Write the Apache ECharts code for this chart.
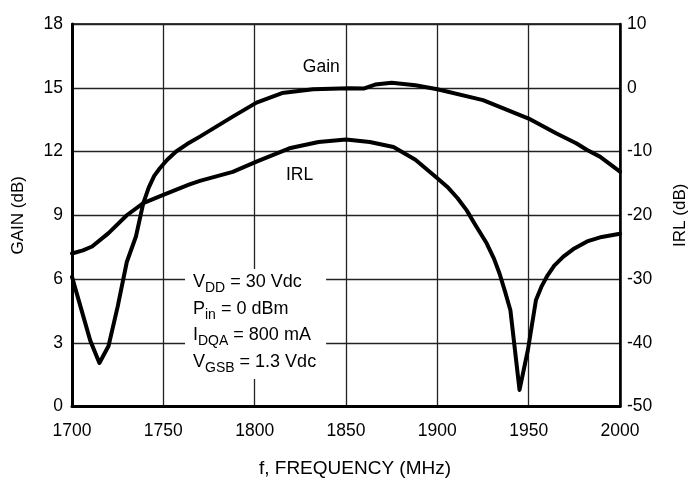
<!DOCTYPE html>
<html>
<head>
<meta charset="utf-8">
<script src="https://cdn.jsdelivr.net/npm/echarts@6/dist/echarts.min.js"></script>
<style>
html,body{margin:0;padding:0;background:#fff;}
#c{width:691px;height:478px;}
</style>
</head>
<body>
<div id="c"></div>
<script>
// Frequency ticks (MHz)
const freqTicks = [1700, 1750, 1800, 1850, 1900, 1950, 2000];
const gainTicks = [0, 3, 6, 9, 12, 15, 18];
const irlTicks = [-50, -40, -30, -20, -10, 0, 10];

// Gain curve (MHz, dB) — left axis
const gainFreq = [1700, 1710, 1715, 1720, 1725, 1730, 1735, 1739, 1742, 1745, 1748, 1752, 1757, 1763, 1770, 1788, 1801, 1815, 1832, 1852, 1860, 1866, 1875, 1888, 1900, 1925, 1950, 1965, 1976, 1982, 1989, 2000];
const gainVal  = [6.1, 3.1, 2.05, 2.85, 4.7, 6.8, 8.0, 9.56, 10.3, 10.85, 11.2, 11.6, 12.0, 12.35, 12.7, 13.64, 14.3, 14.75, 14.93, 14.98, 14.97, 15.15, 15.24, 15.12, 14.93, 14.42, 13.55, 12.86, 12.39, 12.07, 11.76, 11.05];

// IRL curve (MHz, dB) — right axis
const irlFreq = [1700, 1706, 1711, 1720, 1730, 1739, 1750, 1764, 1770, 1788, 1801, 1819, 1835, 1850, 1863, 1876, 1888, 1900, 1906, 1911, 1916, 1921, 1927, 1931, 1934, 1937, 1940, 1945, 1949.6, 1954, 1957, 1960, 1964, 1969, 1975, 1982, 1990, 2000];
const irlVal  = [-26.0, -25.5, -24.9, -22.8, -20.0, -18.1, -16.8, -15.2, -14.6, -13.2, -11.6, -9.5, -8.5, -8.1, -8.5, -9.3, -11.3, -14.2, -15.7, -17.3, -19.2, -21.6, -24.4, -26.8, -29.1, -31.9, -34.9, -47.4, -41.1, -33.3, -31.2, -29.6, -27.9, -26.5, -25.2, -24.1, -23.4, -22.9];

const FONT = "'Liberation Sans', Arial, sans-serif";
const FS = 17.5;

const chart = echarts.init(document.getElementById('c'), null, {renderer: 'canvas'});

const gainData = gainFreq.map((f, i) => [f, gainVal[i]]);
const irlData = irlFreq.map((f, i) => [f, irlVal[i]]);

const plain = v => String(v);

const option = {
  backgroundColor: '#fff',
  animation: false,
  textStyle: {fontFamily: FONT, color: '#000'},
  grid: {left: 72, right: 71, top: 24, bottom: 71.5, containLabel: false, outerBoundsMode: 'none',
    show: true, borderColor: '#000', borderWidth: 1.5, backgroundColor: 'transparent'},
  xAxis: {
    type: 'value', min: freqTicks[0], max: freqTicks[freqTicks.length - 1], interval: 50,
    name: 'f, FREQUENCY (MHz)', nameLocation: 'middle', nameGap: 53,
    nameTextStyle: {fontFamily: FONT, fontSize: 19, color: '#000', padding: [0, 0, 0, 18]},
    axisLine: {show: true, lineStyle: {color: '#000', width: 3}},
    axisTick: {show: false},
    axisLabel: {fontFamily: FONT, fontSize: FS, color: '#000', margin: 16, formatter: plain},
    splitLine: {show: true, lineStyle: {color: '#222', width: 1.3}}
  },
  yAxis: [
    {
      type: 'value', min: gainTicks[0], max: gainTicks[gainTicks.length - 1], interval: 3, position: 'left',
      name: 'GAIN (dB)', nameLocation: 'middle', nameGap: 45, nameRotate: 90,
      nameTextStyle: {fontFamily: FONT, fontSize: 17, color: '#000'},
      axisLine: {show: true, lineStyle: {color: '#000', width: 3}},
      axisTick: {show: false},
      axisLabel: {fontFamily: FONT, fontSize: FS, color: '#000', margin: 9, formatter: plain},
      splitLine: {show: true, lineStyle: {color: '#222', width: 1.3}}
    },
    {
      type: 'value', min: irlTicks[0], max: irlTicks[irlTicks.length - 1], interval: 10, position: 'right',
      name: 'IRL (dB)', nameLocation: 'middle', nameGap: 52, nameRotate: 90,
      nameTextStyle: {fontFamily: FONT, fontSize: 17, color: '#000'},
      axisLine: {show: true, lineStyle: {color: '#000', width: 2.5}},
      axisTick: {show: false},
      axisLabel: {fontFamily: FONT, fontSize: FS, color: '#000', margin: 7, formatter: plain},
      splitLine: {show: false}
    }
  ],
  series: [
    {
      name: 'Gain', type: 'line', yAxisIndex: 0, data: gainData, showSymbol: false, symbol: 'none',
      lineStyle: {color: '#000', width: 4, join: 'round', cap: 'round'}, z: 5, smooth: false
    },
    {
      name: 'IRL', type: 'line', yAxisIndex: 1, data: irlData, showSymbol: false, symbol: 'none',
      lineStyle: {color: '#000', width: 4, join: 'round', cap: 'round'}, z: 5, smooth: false
    }
  ]
};
chart.setOption(option);

const gainLabelPos = chart.convertToPixel({xAxisIndex: 0, yAxisIndex: 0}, [1836.5, 15.95]);
const irlLabelPos = chart.convertToPixel({xAxisIndex: 0, yAxisIndex: 0}, [1824.6, 10.9]);

chart.setOption({
  graphic: [
    {type: 'text', x: gainLabelPos[0], y: gainLabelPos[1], z: 100,
      style: {text: 'Gain', font: FS + 'px ' + FONT, fill: '#000', align: 'center', verticalAlign: 'middle'}},
    {type: 'text', x: irlLabelPos[0], y: irlLabelPos[1], z: 100,
      style: {text: 'IRL', font: FS + 'px ' + FONT, fill: '#000', align: 'center', verticalAlign: 'middle'}},
    {type: 'text', x: 185, y: 269, z: 100,
      style: {
        text: '{m|V}{s|DD}{m| = 30 Vdc}\n{m|P}{s|in}{m| = 0 dBm}\n{m|I}{s|DQA}{m| = 800 mA}\n{m|V}{s|GSB}{m| = 1.3 Vdc}',
        backgroundColor: '#fff',
        padding: [0, 10, 4, 8],
        align: 'left', verticalAlign: 'top',
        rich: {
          m: {fontFamily: FONT, fontSize: 18, lineHeight: 26.5, color: '#000'},
          s: {fontFamily: FONT, fontSize: 14, lineHeight: 15, verticalAlign: 'bottom', color: '#000'}
        }
      }}
  ]
});
</script>
</body>
</html>
